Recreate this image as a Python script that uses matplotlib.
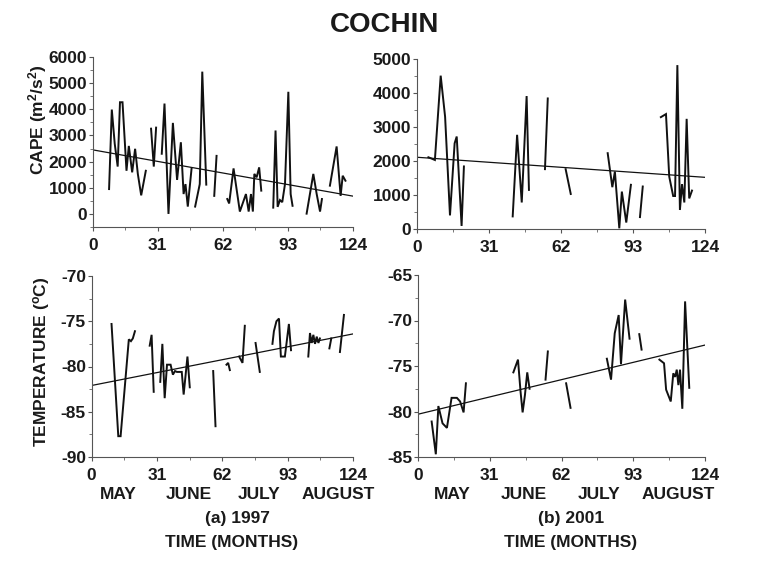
import numpy as np
import matplotlib
matplotlib.use("Agg")
import matplotlib.pyplot as plt
from matplotlib.ticker import MultipleLocator, FixedLocator

plt.rcParams['font.family'] = ['Liberation Sans', 'DejaVu Sans']
plt.rcParams['font.weight'] = 'bold'
plt.rcParams['axes.unicode_minus'] = False
plt.rcParams['mathtext.fontset'] = 'custom'
plt.rcParams['mathtext.rm'] = 'Liberation Sans:bold'
plt.rcParams['mathtext.bf'] = 'Liberation Sans:bold'
plt.rcParams['mathtext.it'] = 'Liberation Sans:bold'

NaN = np.nan

# ---------------- data (day of season, value); NaN = gap ----------------
cape97_day = [7.8, 9.1, 10.5, 11.9, 13.0, 14.2, 16.1, 17.2, 18.8, 20.2, 21.5, 23.1, 25.3, NaN,
              27.8, 29.1, 30.2, NaN,
              32.9, 34.2, 36.1, 38.2, 40.2, 42.0, 43.3, 44.2, 45.3, 47.1, NaN,
              48.8, 51.0, 52.2, 54.1, NaN,
              57.9, 59.0, NaN,
              64.1, 65.0, 67.1, 70.1, 73.0, 74.3, 75.4, 76.3, 77.0, 78.1, 79.3, 80.3, NaN,
              86.0, 87.1, 88.1, 89.2, 90.3, 91.6, 93.2, 94.3, 95.2, NaN,
              101.9, 105.1, 106.7, 108.3, 109.2, NaN,
              113.0, 116.2, 118.1, 119.1, 120.4]
cape97_val = [950, 3990, 2680, 1810, 4270, 4270, 1650, 2600, 1590, 2490, 1530, 710, 1650, NaN,
              3260, 1810, 3300, NaN,
              2300, 4220, 0, 3480, 1300, 2740, 760, 1140, 280, 1740, NaN,
              280, 1140, 5440, 1120, NaN,
              690, 2220, NaN,
              570, 400, 1740, 90, 760, 90, 760, 90, 1530, 1400, 1780, 890, NaN,
              240, 3190, 270, 530, 450, 1140, 4670, 760, 310, NaN,
              10, 1530, 760, 90, 570, NaN,
              1080, 2580, 690, 1460, 1270]
cape97_trend = [2450, 680]

cape01_day = [4.9, 7.7, 10.2, 12.1, 14.2, 16.2, 17.1, 19.2, 20.2, NaN,
              41.2, 43.1, 45.1, 47.2, 48.2, NaN,
              55.1, 56.3, NaN,
              64.0, 66.2, NaN,
              82.1, 84.1, 85.2, 87.1, 88.2, 90.1, 92.1, NaN,
              96.0, 97.2, NaN,
              105.0, 107.2, 108.6, 110.3, 111.1, 112.1, 113.2, 114.1, 115.1, 116.1, 117.2, 118.4]
cape01_val = [2110, 2030, 4510, 3300, 400, 2520, 2720, 90, 1840, NaN,
              370, 2770, 780, 3910, 1150, NaN,
              1760, 3840, NaN,
              1760, 1030, NaN,
              2230, 1230, 1690, 20, 1100, 190, 1300, NaN,
              350, 1250, NaN,
              3290, 3380, 1540, 970, 970, 4820, 560, 1320, 780, 3240, 900, 1130]
cape01_trend = [2110, 1520]

temp97_day = [9.5, 12.7, 13.8, 15.7, 17.7, 18.7, 19.6, 20.6, NaN,
              27.6, 28.5, 29.5, NaN,
              32.6, 33.6, 34.7, 35.8, 37.5, 38.6, 39.6, 40.5, 41.8, 42.8, 43.7, 45.5, 46.6, NaN,
              57.7, 58.8, NaN,
              64.0, 64.8, 65.6, NaN,
              70.0, 71.6, 72.7, NaN,
              77.8, 79.8, NaN,
              85.8, 86.5, 87.7, 88.9, 89.8, 91.7, 93.6, 94.6, NaN,
              102.8, 103.6, 104.4, 105.2, 106.0, 106.8, 107.6, 108.3, NaN,
              112.8, 113.7, NaN,
              117.8, 119.7]
temp97_val = [-75.3, -87.7, -87.7, -82.5, -77.0, -77.2, -76.9, -76.1, NaN,
              -77.7, -76.5, -82.8, NaN,
              -81.7, -77.5, -83.5, -79.8, -79.8, -80.9, -80.5, -80.6, -80.6, -80.6, -83.1, -78.9, -82.3, NaN,
              -80.5, -86.6, NaN,
              -79.8, -79.6, -80.4, NaN,
              -78.9, -79.6, -75.5, NaN,
              -77.4, -80.6, NaN,
              -77.5, -76.1, -75.0, -74.7, -78.9, -78.9, -75.3, -78.2, NaN,
              -78.9, -76.3, -77.4, -76.5, -77.5, -76.7, -77.4, -76.9, NaN,
              -78.0, -76.9, NaN,
              -78.4, -74.3]
temp97_trend = [-82.1, -76.4]

temp01_day = [5.9, 7.7, 8.8, 10.6, 12.5, 14.5, 16.8, 18.2, 19.7, 20.7, NaN,
              41.2, 43.2, 44.3, 45.2, 46.2, 47.2, 48.2, NaN,
              55.1, 56.1, NaN,
              64.0, 65.9, NaN,
              81.6, 83.4, 85.0, 86.7, 87.7, 89.5, 91.4, NaN,
              95.6, 96.6, NaN,
              104.3, 106.3, 107.2, 109.2, 110.3, 111.1, 111.8, 112.5, 113.2, 114.2, 115.4, 117.2]
temp01_val = [-81.1, -84.7, -79.4, -81.3, -81.8, -78.5, -78.5, -78.9, -80.1, -76.9, NaN,
              -75.7, -74.3, -77.8, -80.1, -78.2, -75.7, -77.5, NaN,
              -76.5, -73.4, NaN,
              -76.9, -79.6, NaN,
              -74.2, -76.5, -71.4, -69.4, -74.8, -67.7, -72.0, NaN,
              -71.5, -73.2, NaN,
              -74.3, -74.7, -77.6, -78.9, -75.8, -76.2, -75.4, -77.1, -75.4, -79.7, -67.9, -77.4]
temp01_trend = [-80.3, -72.7]

trend_days = [0, 124]
x_ticks = [0, 31, 62, 93, 124]
months = ['MAY', 'JUNE', 'JULY', 'AUGUST']

# ---------------- figure ----------------
W, H = 757, 566
fig = plt.figure(figsize=(W / 100, H / 100), dpi=100)


def ax_px(left, right, top, bottom):
    return fig.add_axes([left / W, 1 - bottom / H, (right - left) / W, (bottom - top) / H])


TXT = '#1a1a1a'


def style(ax, ylim, ymajor, yminor):
    ax.set_xlim(0, 124)
    ax.set_ylim(*ylim)
    ax.xaxis.set_major_locator(FixedLocator(x_ticks))
    ax.xaxis.set_minor_locator(MultipleLocator(15.5))
    ax.yaxis.set_major_locator(MultipleLocator(ymajor))
    ax.yaxis.set_minor_locator(MultipleLocator(yminor))
    for s in ['top', 'right']:
        ax.spines[s].set_visible(False)
    for s in ['left', 'bottom']:
        ax.spines[s].set_color('#555555')
        ax.spines[s].set_linewidth(0.8)
    ax.tick_params(which='major', direction='out', length=3, width=0.8, color='#555555',
                   labelsize=12.5, labelcolor=TXT)
    ax.tick_params(which='minor', direction='out', length=2, width=0.7, color='#777777')
    ax.tick_params(axis='x', pad=5)
    ax.tick_params(axis='y', pad=1)
    for lab in ax.get_xticklabels() + ax.get_yticklabels():
        lab.set_fontweight('bold')


panels = [
    (ax_px(92.7, 353, 57, 227), cape97_day, cape97_val, cape97_trend, (-500, 6000), 1000, 500),
    (ax_px(417, 705, 59, 229), cape01_day, cape01_val, cape01_trend, (0, 5000), 1000, 500),
    (ax_px(91.5, 353, 276, 457), temp97_day, temp97_val, temp97_trend, (-90, -70), 5, 2.5),
    (ax_px(418, 705, 275, 457), temp01_day, temp01_val, temp01_trend, (-85, -65), 5, 2.5),
]

for ax, xd, yd, tr, ylim, mj, mn in panels:
    ax.plot(xd, yd, color='#111111', lw=1.4, solid_joinstyle='miter')
    ax.plot(trend_days, tr, color='#111111', lw=0.9)
    style(ax, ylim, mj, mn)

fig.text(38 / W, 1 - 120 / H, r'CAPE (m$^{2}$/s$^{2}$)', rotation=90, ha='center', va='center',
         fontsize=12.5, fontweight='bold', color=TXT)
fig.text(42 / W, 1 - 362 / H, r'TEMPERATURE ($^{o}$C)', rotation=90, ha='center', va='center',
         fontsize=12.5, fontweight='bold', color=TXT)

fig.text(385 / W, 1 - 25 / H, 'COCHIN', ha='center', va='center', fontsize=20,
         fontweight='bold', color=TXT)

month_x_a = [118, 189, 259.5, 338]
month_x_b = [452, 524, 599, 678.5]
for mx_a, mx_b, m in zip(month_x_a, month_x_b, months):
    fig.text(mx_a / W, 1 - 494.5 / H, m, ha='center', va='center', fontsize=12.5,
             fontweight='bold', color=TXT)
    fig.text(mx_b / W, 1 - 494.5 / H, m, ha='center', va='center', fontsize=12.5,
             fontweight='bold', color=TXT)

fig.text(237 / W, 1 - 519 / H, '(a) 1997', ha='center', va='center', fontsize=12.5,
         fontweight='bold', color=TXT)
fig.text(571 / W, 1 - 519 / H, '(b) 2001', ha='center', va='center', fontsize=12.5,
         fontweight='bold', color=TXT)
fig.text(231.5 / W, 1 - 543 / H, 'TIME (MONTHS)', ha='center', va='center', fontsize=12.5,
         fontweight='bold', color=TXT)
fig.text(571 / W, 1 - 543 / H, 'TIME (MONTHS)', ha='center', va='center', fontsize=12.5,
         fontweight='bold', color=TXT)

fig.savefig('out.png', dpi=100)
